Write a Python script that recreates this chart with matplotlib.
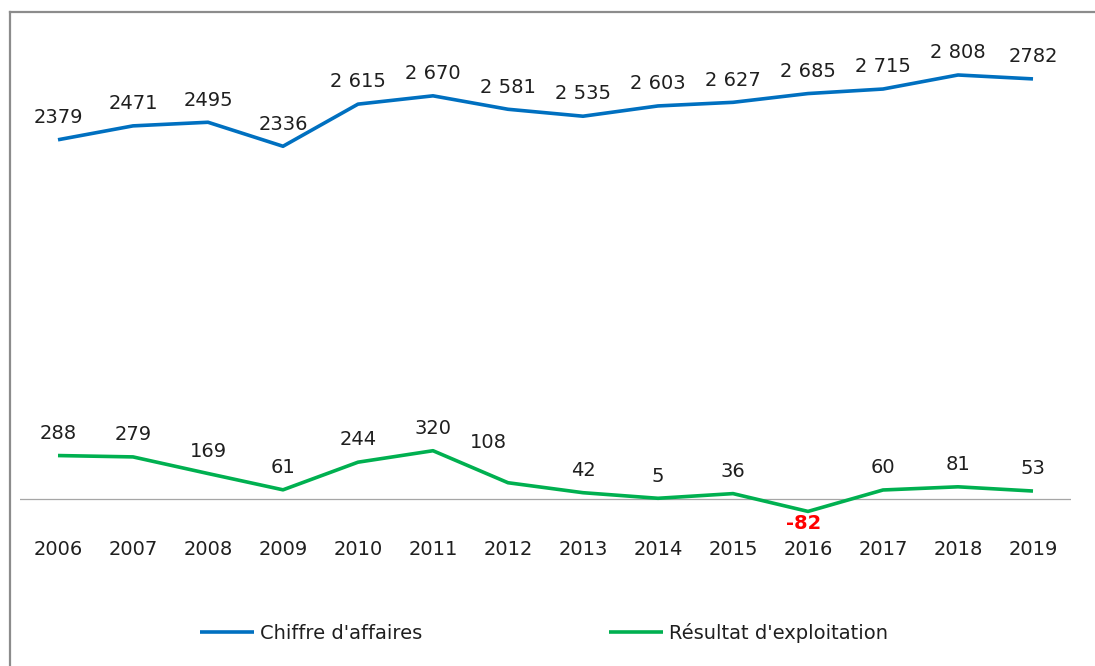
import numpy as np
import matplotlib.pyplot as plt
from matplotlib.lines import Line2D

# data
annees = ['2006', '2007', '2008', '2009', '2010', '2011', '2012',
          '2013', '2014', '2015', '2016', '2017', '2018', '2019']
chiffre_affaires = [2379, 2471, 2495, 2336, 2615, 2670, 2581,
                    2535, 2603, 2627, 2685, 2715, 2808, 2782]
ca_labels = ['2379', '2471', '2495', '2336', '2 615', '2 670', '2 581',
             '2 535', '2 603', '2 627', '2 685', '2 715', '2 808', '2782']
resultat = [288, 279, 169, 61, 244, 320, 108, 42, 5, 36, -82, 60, 81, 53]

bleu = '#0070C0'
vert = '#00B050'
W, H = 1095, 666

fig = plt.figure(figsize=(W / 100, H / 100), dpi=100)
ax = fig.add_axes([20.5 / W, 1 - 530 / H, 1050 / W, 505 / H])

x = np.arange(len(annees))
ax.plot(x, chiffre_affaires, color=bleu, lw=2.6, solid_capstyle='butt',
        label="Chiffre d'affaires")
ax.plot(x, resultat, color=vert, lw=2.6, solid_capstyle='butt',
        label="Résultat d'exploitation")
ax.axhline(0, color='#a6a6a6', lw=0.9, zorder=0)

ax.set_xlim(-0.5, len(annees) - 0.5)
ax.set_ylim(-205, 3139)

fs = 14
txt = '#1f1f1f'
for i, (v, s) in enumerate(zip(chiffre_affaires, ca_labels)):
    ax.annotate(s, (i, v), xytext=(0, 16), textcoords='offset points',
                ha='center', va='center', fontsize=fs, color=txt)

# petits decalages manuels des etiquettes (en points)
decal = {6: (-14, 29), 10: (-3, -9)}
for i, v in enumerate(resultat):
    dx, dy = decal.get(i, (0, 16))
    if v < 0:
        ax.annotate(str(v), (i, v), xytext=(dx, dy), textcoords='offset points',
                    ha='center', va='center', fontsize=fs, color='#ff0000',
                    fontweight='bold')
    else:
        ax.annotate(str(v), (i, v), xytext=(dx, dy), textcoords='offset points',
                    ha='center', va='center', fontsize=fs, color=txt)

ax.set_xticks(x)
ax.set_xticklabels(annees, fontsize=fs, color=txt)
ax.tick_params(axis='x', length=0, pad=7)
ax.set_yticks([])
for sp in ax.spines.values():
    sp.set_visible(False)

fig.legend(loc='center', bbox_to_anchor=(544 / W, 1 - 633 / H), ncol=2,
           frameon=False, fontsize=fs, handlelength=2.8, handletextpad=0.3,
           columnspacing=9.6, labelcolor=txt)

# cadre gris (gauche et haut)
fig.add_artist(Line2D([10 / W, 10 / W], [0, 1 - 12 / H], transform=fig.transFigure,
                      color='#8c8c8c', lw=1.6))
fig.add_artist(Line2D([10 / W, 1], [1 - 12 / H, 1 - 12 / H], transform=fig.transFigure,
                      color='#8c8c8c', lw=1.6))

fig.savefig('out.png', dpi=100)
